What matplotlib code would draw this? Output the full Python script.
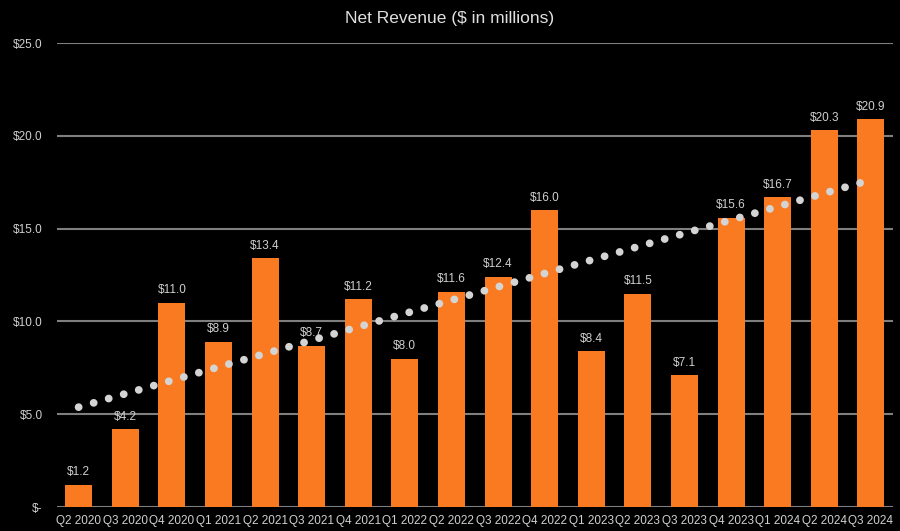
import numpy as np
import matplotlib.pyplot as plt
from matplotlib.ticker import FuncFormatter

plt.rcParams['font.family'] = ['Liberation Sans', 'DejaVu Sans']

# quarterly net revenue, $ millions
quarters = ["Q2 2020", "Q3 2020", "Q4 2020", "Q1 2021", "Q2 2021", "Q3 2021",
            "Q4 2021", "Q1 2022", "Q2 2022", "Q3 2022", "Q4 2022", "Q1 2023",
            "Q2 2023", "Q3 2023", "Q4 2023", "Q1 2024", "Q2 2024", "Q3 2024"]
revenue = [1.2, 4.2, 11.0, 8.9, 13.4, 8.7, 11.2, 8.0, 11.6, 12.4, 16.0, 8.4,
           11.5, 7.1, 15.6, 16.7, 20.3, 20.9]

orange = "#FA7A22"
grid_col = "#7f7f7f"
text_col = "#d0d0d0"

x = np.arange(len(quarters))

fig = plt.figure(figsize=(9, 5.31), dpi=100, facecolor="black")
ax = fig.add_axes([0.063, 0.045, 0.929, 0.874], facecolor="black")

bars = ax.bar(x, revenue, width=0.58, color=orange, zorder=2)
for xi, v in zip(x, revenue):
    ax.text(xi, v + 0.35, f"${v:.1f}", ha="center", va="bottom",
            fontsize=8.5, color=text_col, zorder=4)

# linear trend line
slope, intercept = np.polyfit(x, revenue, 1)
ax.plot(x, slope * x + intercept, color="#d4d4d4", linewidth=5.6,
        linestyle=(0, (0.01, 2.0)), dash_capstyle="round", zorder=3)

ax.set_ylim(0, 25)
ax.set_xlim(-0.47, len(quarters) - 0.53)
ax.set_yticks([0, 5, 10, 15, 20, 25])
ax.yaxis.set_major_formatter(FuncFormatter(lambda v, p: "$-" if v == 0 else f"${v:.1f}"))
ax.yaxis.grid(True, color=grid_col, linewidth=1.5, zorder=0)
ax.set_axisbelow(True)
ax.set_xticks(x)
ax.set_xticklabels(quarters)
ax.tick_params(axis="x", length=0, labelsize=8.5, colors=text_col, pad=6)
ax.tick_params(axis="y", length=0, labelsize=8.5, colors=text_col, pad=10)
for s in ax.spines.values():
    s.set_visible(False)

fig.text(0.5, 0.965, "Net Revenue ($ in millions)", ha="center", va="center",
         fontsize=12.5, color="#e0e0e0")

fig.savefig("out.png", dpi=100, facecolor="black")
